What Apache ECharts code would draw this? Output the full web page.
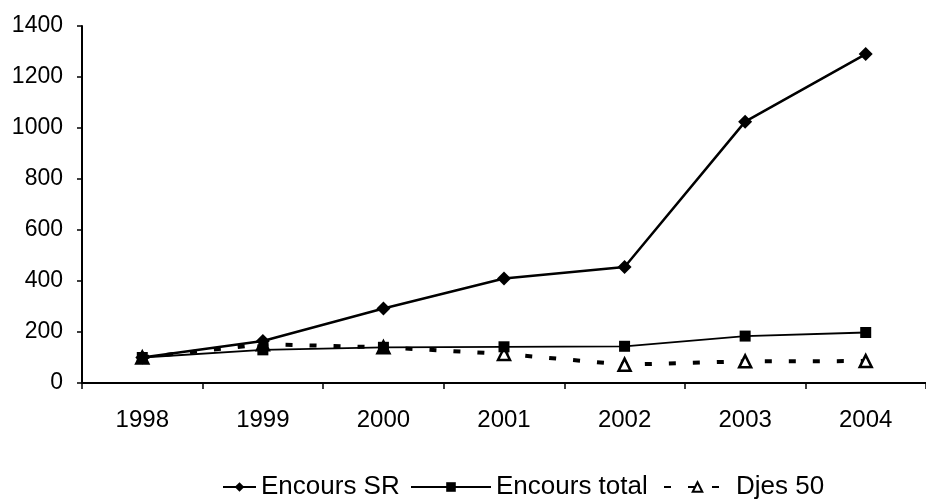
<!DOCTYPE html>
<html>
<head>
<meta charset="utf-8">
<script src="https://cdn.jsdelivr.net/npm/echarts@6/dist/echarts.min.js"></script>
<style>
  html, body { margin: 0; padding: 0; background: #fff; }
  #chart { width: 926px; height: 501px; }
</style>
</head>
<body>
<div id="chart"></div>
<script>
// données
var years = ["1998", "1999", "2000", "2001", "2002", "2003", "2004"];
var encoursSR = [100, 165, 292, 410, 455, 1025, 1290];
var encoursTotal = [100, 130, 140, 142, 144, 184, 198];
var djes50 = [100, 152, 140, 114, 72, 85, 86];
var yTicks = [0, 200, 400, 600, 800, 1000, 1200, 1400];

var myChart = echarts.init(document.getElementById("chart"));
var fam = "Liberation Sans, Arial, sans-serif";
var legendText = { fontFamily: fam, fontSize: 26, color: "#000" };

// une légende par série pour garder la largeur des pictos
function legendFor(name, left, w) {
  return {
    data: [name],
    left: left,
    top: 469,
    itemWidth: w,
    itemHeight: 12,
    textStyle: legendText
  };
}

myChart.setOption({
  animation: false,
  grid: { left: 82, right: 0, top: 26, bottom: 118 },
  legend: [
    legendFor("Encours SR", 217, 33),
    legendFor("Encours total", 405, 80),
    legendFor("Djes 50", 658, 67)
  ],
  xAxis: {
    type: "category",
    data: years,
    boundaryGap: true,
    axisLine: { lineStyle: { color: "#000", width: 2 } },
    axisTick: { show: true, length: 6, lineStyle: { color: "#000", width: 1.5 } },
    axisLabel: { margin: 25, fontFamily: fam, fontSize: 24, color: "#000" }
  },
  yAxis: {
    type: "value",
    min: yTicks[0],
    max: yTicks[yTicks.length - 1],
    interval: 200,
    axisLine: { show: true, lineStyle: { color: "#000", width: 2 } },
    axisTick: { show: true, length: 5, lineStyle: { color: "#000", width: 1.5 } },
    splitLine: { show: false },
    axisLabel: {
      margin: 19, fontFamily: fam, fontSize: 23, color: "#000",
      formatter: function (v) { return String(v); }
    }
  },
  series: [
    {
      name: "Encours SR",
      type: "line",
      data: encoursSR,
      symbol: "diamond",
      symbolSize: 14,
      z: 3,
      itemStyle: { color: "#000" },
      lineStyle: { color: "#000", width: 2.5 }
    },
    {
      name: "Encours total",
      type: "line",
      data: encoursTotal,
      symbol: "rect",
      symbolSize: 11,
      z: 2,
      itemStyle: { color: "#000" },
      lineStyle: { color: "#000", width: 1.8 }
    },
    {
      name: "Djes 50",
      type: "line",
      data: djes50,
      symbol: "triangle",
      symbolSize: 12,
      showAllSymbol: true,
      z: 1,
      itemStyle: { color: "#fff", borderColor: "#000", borderWidth: 2.5 },
      lineStyle: { color: "#000", width: 4, type: [7, 17] }
    }
  ]
});
</script>
</body>
</html>
